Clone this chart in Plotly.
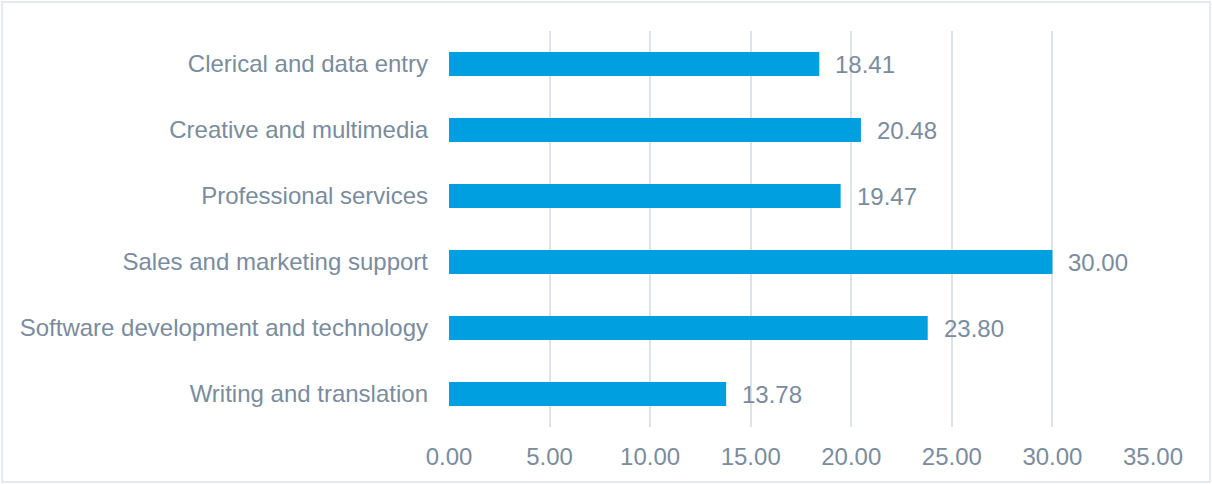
import plotly.graph_objects as go

categories = [
    "Clerical and data entry",
    "Creative and multimedia",
    "Professional services",
    "Sales and marketing support",
    "Software development and technology",
    "Writing and translation",
]
values = [18.41, 20.48, 19.47, 30.00, 23.80, 13.78]
x_ticks = [0, 5, 10, 15, 20, 25, 30, 35]

TEXT = "#7A8C9D"
FONT = "Liberation Sans, Arial, sans-serif"
FS = 24

fig = go.Figure(
    go.Bar(
        x=values,
        y=categories,
        orientation="h",
        marker=dict(color="#009FDF", line=dict(width=0)),
        width=0.365,
        hoverinfo="skip",
    )
)

for v, c in zip(values, categories):
    fig.add_annotation(
        x=v, y=c, text=f"{v:.2f}", showarrow=False,
        xanchor="left", yanchor="middle", xshift=14,
        font=dict(family=FONT, size=FS, color=TEXT),
    )

L, R, T, B = 449, 59, 31, 57
W, H = 1212, 484
pw, ph = W - L - R, H - T - B

fig.add_shape(
    type="rect", xref="paper", yref="paper",
    x0=(2 - L) / pw, x1=(W - 2 - L) / pw,
    y0=-(B - 2) / ph, y1=1 + (T - 2) / ph,
    line=dict(color="#DEE3E9", width=1.5), fillcolor="rgba(0,0,0,0)", layer="below",
)

fig.update_layout(
    width=W, height=H,
    margin=dict(l=L, r=R, t=T, b=B, pad=0),
    paper_bgcolor="white", plot_bgcolor="white",
    showlegend=False,
    font=dict(family=FONT, size=FS, color=TEXT),
    xaxis=dict(
        range=[0, 35], tickvals=x_ticks, tickformat=".2f",
        showgrid=True, gridcolor="#DEE3E8", gridwidth=1.5,
        zeroline=False, showline=False, ticks="",
        ticklabelstandoff=13,
        tickfont=dict(family=FONT, size=FS, color=TEXT),
        fixedrange=True,
    ),
    yaxis=dict(
        autorange="reversed", showgrid=False, zeroline=False, showline=False,
        ticks="", ticklabelstandoff=20,
        tickfont=dict(family=FONT, size=FS, color=TEXT),
        fixedrange=True,
    ),
)

fig.write_html("out.html")
